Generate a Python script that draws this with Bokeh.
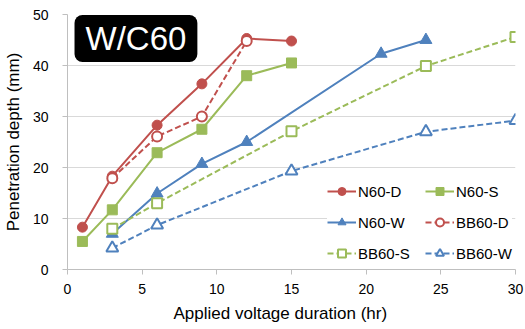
from bokeh.plotting import figure
from bokeh.models import Label, Legend, FixedTicker, Range1d, Title
from bokeh.embed import file_html
from bokeh.resources import INLINE

# ---- data ----
n60d_x = [1, 3, 6, 9, 12, 15]
n60d_y = [8.3, 18.3, 28.3, 36.4, 45.3, 44.8]
n60s_x = [1, 3, 6, 9, 12, 15]
n60s_y = [5.5, 11.7, 22.9, 27.5, 38.0, 40.5]
n60w_x = [3, 6, 9, 12, 21, 24]
n60w_y = [7.0, 14.9, 20.7, 25.0, 42.3, 45.0]
bb60d_x = [3, 6, 9, 12]
bb60d_y = [17.9, 26.1, 30.0, 44.8]
bb60s_x = [3, 6, 15, 24, 30]
bb60s_y = [8.0, 13.0, 27.1, 39.9, 45.6]
bb60w_x = [3, 6, 15, 24, 30]
bb60w_y = [4.2, 8.7, 19.3, 27.0, 29.2]

x_ticks = [0, 5, 10, 15, 20, 25, 30]
y_ticks = [0, 10, 20, 30, 40, 50]

RED = "#C0504D"
GREEN = "#9BBB59"
BLUE = "#4F81BD"
FONT = "Liberation Sans"

p = figure(width=525, height=329, output_backend="svg", toolbar_location=None,
           x_range=Range1d(0, 30), y_range=Range1d(0, 50),
           min_border_left=67, min_border_right=10, min_border_top=14, min_border_bottom=60)
p.outline_line_color = None
p.background_fill_color = "white"
p.border_fill_color = "white"

series = [
    ("N60-D", n60d_x, n60d_y, RED, "circle", False, 10),
    ("N60-S", n60s_x, n60s_y, GREEN, "square", False, 10),
    ("N60-W", n60w_x, n60w_y, BLUE, "triangle", False, 12),
    ("BB60-D", bb60d_x, bb60d_y, RED, "circle", True, 10),
    ("BB60-S", bb60s_x, bb60s_y, GREEN, "square", True, 10),
    ("BB60-W", bb60w_x, bb60w_y, BLUE, "triangle", True, 12),
]

legend_items = []
for name, xs, ys, col, marker, dashed, size in series:
    r1 = p.line(xs, ys, line_color=col, line_width=2,
                line_dash="6 3" if dashed else "solid")
    if dashed:
        r2 = p.scatter(xs, ys, marker=marker, size=size, fill_color="white",
                       line_color=col, line_width=2)
    else:
        r2 = p.scatter(xs, ys, marker=marker, size=size, fill_color=col,
                       line_color=col, line_width=1)
    legend_items.append((name, [r1, r2]))

legend = Legend(items=legend_items, orientation="horizontal", ncols=2,
                location=(260, 6), label_text_font=FONT, label_text_font_size="15px",
                label_text_color="#000000", glyph_width=29, glyph_height=20,
                label_height=20, label_width=56, label_standoff=2, spacing=11,
                padding=5, margin=0,
                background_fill_color="white", background_fill_alpha=1.0,
                border_line_color=None)
p.add_layout(legend, "center")

# axes
p.xaxis.ticker = FixedTicker(ticks=x_ticks)
p.yaxis.ticker = FixedTicker(ticks=y_ticks)
p.yaxis.axis_label = "Penetration depth (mm)"
for ax in (p.xaxis, p.yaxis):
    ax.axis_line_color = "#bfbfbf"
    ax.major_tick_line_color = "#bfbfbf"
    ax.minor_tick_line_color = None
    ax.major_tick_out = 5
    ax.major_tick_in = 0
    ax.major_label_text_font = FONT
    ax.major_label_text_font_size = "14px"
    ax.major_label_text_color = "#000000"
    ax.axis_label_text_font = FONT
    ax.axis_label_text_font_size = "17px"
    ax.axis_label_text_font_style = "normal"
    ax.axis_label_text_color = "#000000"
p.xaxis.major_label_standoff = 9
p.yaxis.major_label_standoff = 14
p.yaxis.axis_label_standoff = 7

# x-axis title, centred on the chart area (as in the original) rather than the plot frame
xtitle = Title(text="Applied voltage duration (hr)", align="left", offset=106,
               text_font=FONT, text_font_size="17px", text_font_style="normal",
               text_color="#000000", standoff=11)
p.add_layout(xtitle, "below")

p.xgrid.grid_line_color = None
p.ygrid.grid_line_color = "#d9d9d9"
p.ygrid.grid_line_width = 1

title = Label(x=0.47, y=49.9, text="W/C60", text_color="white", text_font=FONT,
              text_font_size="33px", anchor="top_left",
              background_fill_color="black", background_fill_alpha=1.0,
              padding=(11, 5), border_radius=8)
p.add_layout(title)

open("out.html", "w").write(file_html(p, INLINE))
